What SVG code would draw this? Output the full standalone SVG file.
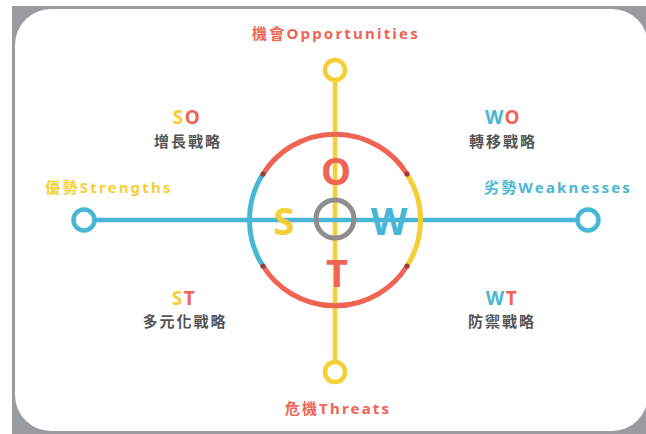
<svg xmlns="http://www.w3.org/2000/svg" width="646" height="434" viewBox="0 0 646 434">
<style>
.lbl{font-family:"Noto Sans","Noto Sans CJK TC",sans-serif;font-weight:700;font-size:15px;letter-spacing:2.2px;text-anchor:middle}
.cn{font-family:"Noto Sans","Noto Sans CJK TC",sans-serif;font-weight:700;font-size:15px;fill:#555;letter-spacing:2px;text-anchor:middle}
.pair{font-family:"Noto Sans",sans-serif;font-weight:700;font-size:19px;letter-spacing:1.5px;text-anchor:middle}
.big{font-family:"Noto Sans",sans-serif;font-weight:700;font-size:38px;text-anchor:middle}
.red{fill:#ef6453}.yel{fill:#f5cf35}.blu{fill:#48b7d5}
.end{fill:#fff;stroke-width:4.5}
</style>
<rect x="12" y="6" width="640" height="434" fill="#999c9f"/>
<rect x="15" y="9" width="633" height="422" rx="36" fill="#fff"/>
<g id="connectors" fill="none" stroke-width="4.5">
<line x1="335" y1="70" x2="335" y2="372" stroke="#f5cf35"/>
<line x1="84" y1="220" x2="588" y2="220" stroke="#48b7d5"/>
</g>
<g id="ring" fill="none" stroke-width="5">
<path d="M263,174 A85,85 0 0 1 407,174" stroke="#ef6453"/>
<path d="M407,174 A85,85 0 0 1 407,266" stroke="#f5cf35"/>
<path d="M407,266 A85,85 0 0 1 263,266" stroke="#ef6453"/>
<path d="M263,266 A85,85 0 0 1 263,174" stroke="#48b7d5"/>
<g fill="#9c3a36" stroke="none">
<circle cx="263" cy="174" r="2.6"/><circle cx="407" cy="174" r="2.6"/>
<circle cx="263" cy="266" r="2.6"/><circle cx="407" cy="266" r="2.6"/>
</g>
</g>
<g id="center"><circle cx="335" cy="219" r="19" fill="none" stroke="#8e8e8e" stroke-width="5"/></g>
<g id="letter-O"><text x="336" y="185" class="big red">O</text></g>
<g id="letter-S"><text x="284" y="235" class="big yel">S</text></g>
<g id="letter-W"><text x="389" y="235" class="big blu">W</text></g>
<g id="letter-T"><text x="337" y="287" class="big red">T</text></g>
<g id="opportunities"><circle cx="335" cy="70" r="10" class="end" stroke="#f5cf35"/><text x="336" y="39" class="lbl red">機會Opportunities</text></g>
<g id="threats"><circle cx="335" cy="372" r="10" class="end" stroke="#f5cf35"/><text x="338" y="414" class="lbl red">危機Threats</text></g>
<g id="strengths"><circle cx="84" cy="220" r="10.5" class="end" stroke="#48b7d5"/><text x="109" y="193" class="lbl yel">優勢Strengths</text></g>
<g id="weaknesses"><circle cx="588" cy="220" r="10.5" class="end" stroke="#48b7d5"/><text x="558" y="193" class="lbl blu">劣勢Weaknesses</text></g>
<g id="SO"><text x="187" y="124" class="pair"><tspan class="yel">S</tspan><tspan class="red">O</tspan></text><text x="188" y="147" class="cn">增長戰略</text></g>
<g id="WO"><text x="503" y="124" class="pair"><tspan class="blu">W</tspan><tspan class="red">O</tspan></text><text x="503" y="147" class="cn">轉移戰略</text></g>
<g id="ST"><text x="184" y="305" class="pair"><tspan class="yel">S</tspan><tspan class="red">T</tspan></text><text x="185" y="327" class="cn">多元化戰略</text></g>
<g id="WT"><text x="502" y="305" class="pair"><tspan class="blu">W</tspan><tspan class="red">T</tspan></text><text x="502" y="327" class="cn">防禦戰略</text></g>
</svg>
